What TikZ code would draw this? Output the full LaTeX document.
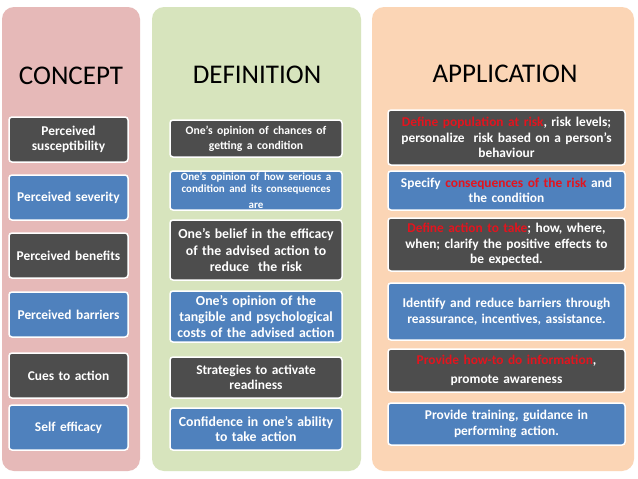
\documentclass[tikz,border=0pt]{standalone}
\usepackage{fontspec}
\setmainfont{Carlito}
\definecolor{pink}{HTML}{E6B9B8}
\definecolor{lgreen}{HTML}{D7E4BD}
\definecolor{peach}{HTML}{FBD5B5}
\definecolor{dk}{HTML}{4D4D4D}
\definecolor{bl}{HTML}{4F81BD}
\definecolor{rd}{HTML}{E3141E}
\begin{document}
\begin{tikzpicture}[x=1pt,y=-1pt,
 panel/.style={rounded corners=12pt},
 title/.style={font=\fontsize{27}{30}\selectfont},
 cbox/.style={draw=white,line width=1.5pt,rounded corners=3pt,text=white,align=center,font=\bfseries\fontsize{13.4}{15.5}\selectfont,inner sep=1pt},
 dkb/.style={cbox,fill=dk},
 blb/.style={cbox,fill=bl}]
\useasboundingbox (0,0) rectangle (638,479);
\fill[white] (0,0) rectangle (638,479);
\fill[pink,panel] (2,7) rectangle (140,471);
\fill[lgreen,panel] (152,7) rectangle (361,471);
\fill[peach,panel] (372,7) rectangle (634,471);
\node[title] (t1) at (71,76) {CONCEPT};
\node[title] (t2) at (257,75) {DEFINITION};
\node[title] (t3) at (505,74) {APPLICATION};
\newcommand{\bx}[7]{\node[#1,minimum width=#4-#3 pt,minimum height=#6-#5 pt,text width=#4-#3-4 pt] (#7) at ({(#3+#4)/2},{(#5+#6)/2}) {#2};}
\bx{dkb}{Perceived\\susceptibility}{9}{128}{117}{162}{c1}
\bx{blb}{Perceived severity}{9}{128}{175}{220}{c2}
\bx{dkb}{Perceived benefits}{9}{128}{233}{278}{c3}
\bx{blb}{Perceived barriers}{9}{128}{292}{337}{c4}
\bx{dkb}{Cues to action}{9}{128}{353}{398}{c5}
\bx{blb}{Self efficacy}{9}{128}{405}{450}{c6}
% definition
\bx{dkb}{\fontsize{11.7}{14}\selectfont One’s opinion of chances of\\getting a condition}{170}{342}{120}{157}{d1}
\bx{blb}{\fontsize{11}{12.3}\selectfont One’s opinion of how serious a\\condition and its consequences\\are}{170}{342}{171}{210}{d2}
\bx{dkb}{\fontsize{13.8}{17}\selectfont One’s belief in the efficacy\\of the advised action to\\reduce\ \ the risk}{170}{342}{220}{280}{d3}
\bx{blb}{\fontsize{13.8}{16.5}\selectfont One’s opinion of the\\tangible and psychological\\costs of the advised action}{170}{342}{291}{342}{d4}
\bx{dkb}{Strategies to activate\\readiness}{170}{342}{357}{398}{d5}
\bx{blb}{\fontsize{13.8}{16.5}\selectfont Confidence in one’s ability\\to take action}{170}{342}{408}{450}{d6}
% application
\bx{dkb}{{\color{rd}Define population at risk}, risk levels;\\personalize\ \ risk based on a person’s\\behaviour}{388}{625}{110}{165}{a1}
\bx{blb}{Specify {\color{rd}consequences of the risk} and\\the condition}{388}{625}{171}{210}{a2}
\bx{dkb}{{\color{rd}Define action to take}; how, where,\\when; clarify the positive effects to\\be expected.}{388}{625}{218}{271}{a3}
\bx{blb}{Identify and reduce barriers through\\reassurance, incentives, assistance.}{388}{625}{283}{340}{a4}
\bx{dkb}{{\color{rd}Provide how-to do information},\\[4pt]promote awareness}{388}{625}{349}{392}{a5}
\bx{blb}{Provide training, guidance in\\performing action.}{388}{625}{403}{445}{a6}
\end{tikzpicture}
\end{document}
